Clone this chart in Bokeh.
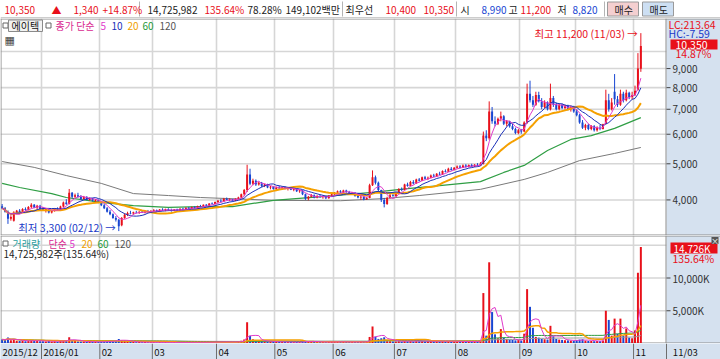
import numpy as np
import pandas as pd
from bokeh.plotting import figure
from bokeh.layouts import column
from bokeh.models import Range1d, FixedTicker, Grid, ColumnDataSource
from bokeh.core.properties import value
from bokeh.embed import file_html
from bokeh.resources import INLINE

# ---------------- data ----------------
month_labels = ["2015/12", "2016/01", "02", "03", "04", "05", "06", "07", "08", "09", "10", "11"]
month_days = [14, 20, 18, 22, 20, 20, 21, 21, 22, 19, 20, 3]
last_date_label = "11/03"

open_ = [
    3850, 3800, 3720, 3560, 3520, 3700, 3740, 3700, 3780, 3760, 3830, 3880, 3820, 3860,
    3790, 3760, 3780, 3700, 3740, 3790, 3760, 3840, 3940, 3900, 4180, 4080, 4120, 4080, 4020, 4080, 4000, 4040, 3980, 4000,
    3950, 3870, 3800, 3720, 3660, 3580, 3540, 3420, 3580, 3650, 3690, 3680, 3710, 3700, 3720, 3700, 3730, 3720,
    3740, 3760, 3730, 3770, 3750, 3780, 3760, 3740, 3770, 3750, 3790, 3770, 3810, 3790, 3830, 3800, 3850, 3840, 3880, 3860, 3910, 3900,
    3950, 3980, 3960, 4030, 4000, 4020, 3980, 4030, 4060, 4140, 4250, 4680, 4420, 4500, 4400, 4450, 4360, 4400, 4320, 4340,
    4280, 4320, 4300, 4330, 4280, 4300, 4260, 4280, 4220, 4240, 4140, 4030, 4080, 4120, 4060, 4100, 4070, 4090, 4040, 4110,
    4140, 4180, 4220, 4190, 4240, 4200, 4160, 4180, 4100, 4060, 4080, 4020, 4050, 4380, 4600, 4450, 4250, 4000, 3900, 4050, 4120,
    4100, 4180, 4280, 4250, 4400, 4360, 4470, 4430, 4540, 4500, 4600, 4560, 4590, 4650, 4620, 4700, 4680, 4780, 4760, 4850, 4810,
    4880, 4920, 4880, 4950, 4900, 4960, 4920, 4970, 4940, 5000, 5950, 5850, 6900, 6500, 6400, 6600, 6700, 6400, 6500, 6300, 6200, 6050,
    6150, 6100, 6450, 7700, 7400, 7200, 7650, 7350, 7100, 7300, 7000, 7500, 7200, 7000, 7200, 7050, 7150, 7000, 7100,
    6900, 6750, 6450, 6250, 6350, 6200, 6300, 6150, 6250, 6200, 6400, 7400, 7000, 7800, 7450, 7200, 7700, 7400, 7750, 7550,
    7650, 7900, 8990,
]
high = [
    3900, 3830, 3750, 3640, 3730, 3760, 3780, 3800, 3820, 3850, 3920, 3900, 3880, 3880,
    3830, 3800, 3790, 3760, 3800, 3820, 3860, 3960, 4020, 4280, 4200, 4160, 4180, 4120, 4100, 4090, 4060, 4050, 4020, 4010,
    3960, 3900, 3830, 3760, 3680, 3620, 3560, 3600, 3680, 3720, 3740, 3720, 3740, 3730, 3750, 3740, 3760, 3750,
    3780, 3770, 3780, 3800, 3790, 3800, 3790, 3780, 3790, 3800, 3810, 3820, 3830, 3840, 3850, 3860, 3880, 3890, 3900, 3920, 3940, 3960,
    4000, 4020, 4050, 4060, 4040, 4030, 4040, 4080, 4160, 4280, 4970, 4850, 4560, 4540, 4480, 4470, 4420, 4420, 4360, 4350,
    4340, 4360, 4340, 4350, 4320, 4330, 4300, 4290, 4260, 4250, 4160, 4100, 4150, 4140, 4120, 4130, 4110, 4100, 4120, 4160,
    4200, 4240, 4250, 4260, 4260, 4230, 4200, 4190, 4140, 4100, 4090, 4080, 4420, 4800, 4650, 4480, 4260, 4050, 4080, 4150, 4160,
    4200, 4300, 4320, 4420, 4450, 4500, 4520, 4560, 4580, 4620, 4640, 4620, 4680, 4700, 4720, 4760, 4800, 4830, 4880, 4900, 4900,
    4950, 4960, 4980, 4990, 4980, 5000, 4990, 5020, 5050, 6100, 6150, 7350, 7100, 6700, 6650, 6900, 6750, 6550, 6520, 6400, 6250, 6200,
    6200, 6500, 8200, 8350, 7600, 7800, 7800, 7500, 7400, 7350, 8200, 7600, 7300, 7250, 7250, 7200, 7200, 7150, 7150,
    7000, 6800, 6550, 6400, 6400, 6350, 6350, 6300, 6350, 6400, 7900, 7700, 7500, 8700, 7600, 7900, 7800, 7900, 7800, 7800,
    8100, 9900, 11200,
]
low = [
    3780, 3700, 3450, 3520, 3500, 3660, 3680, 3690, 3740, 3750, 3800, 3800, 3780, 3760,
    3740, 3700, 3680, 3680, 3720, 3740, 3750, 3820, 3880, 3890, 4040, 4050, 4060, 4000, 4010, 3990, 3980, 3960, 3940, 3920,
    3850, 3780, 3700, 3640, 3560, 3500, 3300, 3400, 3560, 3620, 3660, 3650, 3680, 3670, 3690, 3680, 3700, 3690,
    3720, 3710, 3720, 3740, 3730, 3740, 3720, 3730, 3740, 3740, 3750, 3760, 3770, 3780, 3790, 3790, 3820, 3830, 3840, 3850, 3880, 3890,
    3920, 3940, 3950, 3990, 3970, 3960, 3970, 4010, 4040, 4100, 4200, 4380, 4380, 4360, 4370, 4330, 4330, 4300, 4270, 4260,
    4250, 4280, 4260, 4270, 4240, 4250, 4220, 4200, 4180, 4120, 4000, 3990, 4060, 4040, 4040, 4050, 4030, 4020, 4030, 4090,
    4120, 4160, 4170, 4180, 4180, 4140, 4130, 4080, 4040, 4000, 3990, 4000, 4040, 4360, 4400, 4200, 3950, 3820, 3880, 4030, 4080,
    4080, 4160, 4220, 4240, 4340, 4350, 4400, 4420, 4480, 4490, 4540, 4520, 4570, 4600, 4610, 4660, 4670, 4740, 4750, 4790, 4800,
    4850, 4860, 4870, 4880, 4890, 4900, 4900, 4920, 4930, 4980, 5750, 5800, 6400, 6300, 6350, 6500, 6350, 6300, 6250, 6150, 6000, 6000,
    6020, 6080, 6400, 7300, 7100, 7150, 7300, 7000, 7050, 6950, 6950, 7100, 6950, 6950, 7000, 6980, 6950, 6900, 6850,
    6700, 6400, 6200, 6150, 6150, 6150, 6100, 6100, 6150, 6180, 6380, 6900, 6950, 7200, 7100, 7150, 7300, 7350, 7450, 7450,
    7600, 7850, 8820,
]
close = [
    3800, 3720, 3560, 3600, 3700, 3740, 3700, 3780, 3760, 3830, 3880, 3820, 3860, 3790,
    3760, 3780, 3700, 3740, 3790, 3760, 3840, 3940, 3900, 4180, 4080, 4120, 4080, 4020, 4080, 4000, 4040, 3980, 4000, 3950,
    3870, 3800, 3720, 3660, 3580, 3540, 3400, 3580, 3650, 3690, 3680, 3710, 3700, 3720, 3700, 3730, 3720, 3740,
    3760, 3730, 3770, 3750, 3780, 3760, 3740, 3770, 3750, 3790, 3770, 3810, 3790, 3830, 3800, 3850, 3840, 3880, 3860, 3910, 3900, 3950,
    3980, 3960, 4030, 4000, 4020, 3980, 4030, 4060, 4140, 4250, 4680, 4420, 4500, 4400, 4450, 4360, 4400, 4320, 4340, 4280,
    4320, 4300, 4330, 4280, 4300, 4260, 4280, 4220, 4240, 4140, 4030, 4080, 4120, 4060, 4100, 4070, 4090, 4040, 4110, 4140,
    4180, 4220, 4190, 4240, 4200, 4160, 4180, 4100, 4060, 4080, 4020, 4050, 4380, 4600, 4450, 4250, 4000, 3900, 4050, 4120, 4100,
    4180, 4280, 4250, 4400, 4360, 4470, 4430, 4540, 4500, 4600, 4560, 4590, 4650, 4620, 4700, 4680, 4780, 4760, 4850, 4810, 4880,
    4920, 4880, 4950, 4900, 4960, 4920, 4970, 4940, 5000, 5950, 5850, 6900, 6500, 6400, 6600, 6700, 6400, 6500, 6300, 6200, 6050, 6150,
    6100, 6450, 7700, 7400, 7200, 7650, 7350, 7100, 7300, 7000, 7500, 7200, 7000, 7200, 7050, 7150, 7000, 7100, 6900,
    6750, 6450, 6250, 6350, 6200, 6300, 6150, 6250, 6200, 6380, 7400, 7000, 7300, 7450, 7200, 7700, 7400, 7750, 7550, 7650,
    7850, 9010, 10350,
]
volume_k = [
    620, 540, 900, 480, 700, 420, 380, 450, 350, 400, 520, 380, 430, 360,
    330, 300, 420, 310, 350, 280, 400, 520, 450, 950, 480, 380, 320, 300, 290, 260, 310, 270, 250, 240,
    260, 300, 350, 380, 420, 450, 700, 520, 400, 330, 260, 220, 200, 230, 190, 210, 180, 200,
    180, 170, 190, 160, 180, 170, 160, 190, 150, 170, 160, 180, 170, 190, 160, 200, 180, 210, 190, 230, 200, 260,
    250, 220, 280, 230, 240, 210, 260, 300, 420, 600, 3250, 1200, 650, 500, 420, 380, 350, 320, 300, 280,
    260, 240, 250, 230, 220, 240, 210, 230, 220, 300, 420, 330, 280, 250, 240, 230, 220, 210, 240, 260,
    250, 270, 240, 260, 230, 220, 230, 250, 260, 240, 230, 250, 1000, 2600, 1050, 700, 800, 950, 520, 400, 330,
    320, 380, 300, 420, 350, 400, 330, 420, 360, 380, 320, 340, 380, 330, 360, 310, 400, 340, 380, 320, 350,
    330, 300, 320, 290, 310, 300, 330, 350, 420, 7700, 1200, 12400, 4800, 1400, 800, 2200, 900, 700, 600, 550, 480, 520,
    450, 1500, 8300, 5600, 2400, 1000, 900, 700, 650, 600, 2700, 1100, 700, 600, 550, 500, 480, 450, 420,
    500, 600, 650, 450, 400, 380, 350, 380, 360, 450, 5000, 3600, 1200, 3800, 1500, 3800, 1200, 2300, 900, 800,
    2000, 10800, 14726,
]
# 60- and 120-day moving averages (bar index, price)
ma60_idx = [0, 6, 17, 22, 34, 45, 57, 68, 79, 93, 114, 127, 139, 150, 164, 172, 179, 187, 195, 202, 210, 219]
ma60_val = [4430, 4320, 4160, 4060, 3940, 3860, 3820, 3840, 3840, 3990, 4110, 4190, 4290, 4370, 4480, 4740, 4950, 5430, 5810, 5950, 6220, 6650]
ma120_idx = [0, 11, 22, 34, 45, 57, 68, 79, 93, 116, 130, 143, 164, 179, 187, 198, 210, 219]
ma120_val = [5070, 4890, 4650, 4430, 4160, 4110, 4060, 4030, 3990, 3980, 4030, 4110, 4270, 4540, 4740, 5100, 5330, 5530]

price_ticks = [4000, 5000, 6000, 7000, 8000, 9000]
price_grid = [4000, 5000, 6000, 7000, 8000, 9000, 10000]
vol_ticks = [5000, 10000]
vol_grid = [5000, 10000, 15000]

# ---------------- styling ----------------
RED = "#e8101a"
BLUE = "#1846d2"
C5, C10, C20, C60, C120 = "#e03acb", "#1a2fb8", "#f5a000", "#2f9e44", "#7a7a7a"
AXBG = "#d5e1ef"
GRID = "#d6d6d6"
KR = value("Noto Sans CJK KR")

X0, SX = -0.56, 2.9165          # bar index at left edge, px per bar
def fx(px):
    return X0 + px / SX
def fy(py):                      # price figure: canvas y -> price
    return 12259.0 * np.exp(-(py - 18) / 162.0)
def fv(py):                      # volume figure: canvas y -> volume (K)
    return (343 - py) / 108.0 * 16490.0

XR = (X0, fx(720))
XEND = fx(666)                   # right edge of the chart area

n = len(close)
df = pd.DataFrame(dict(x=np.arange(n), o=open_, h=high, l=low, c=close, v=volume_k))
df["top"] = df[["o", "c"]].max(axis=1)
df["bot"] = df[["o", "c"]].min(axis=1)
df["color"] = np.where(df.c >= df.o, RED, BLUE)
prev = df.c.shift(1).fillna(df.o)
df["vcolor"] = np.where(df.c >= prev, RED, BLUE)
for w in (5, 10, 20):
    df[f"ma{w}"] = df.c.rolling(w, min_periods=1).mean()
for w in (5, 20, 60, 120):
    df[f"vma{w}"] = df.v.rolling(w, min_periods=1).mean()
src = ColumnDataSource(df)

starts = np.cumsum([0] + month_days[:-1])
bounds = [float(s) - 0.5 for s in starts[1:]]

def base_fig(h, yr, ytype="linear", bg="white"):
    f = figure(width=720, height=h, x_range=Range1d(*XR), y_range=yr, y_axis_type=ytype,
               output_backend="svg", toolbar_location=None, min_border=0,
               x_axis_location=None, y_axis_location=None, outline_line_color=None,
               background_fill_color=bg, border_fill_color=bg)
    f.grid.visible = False
    return f

# ---------------- top info bar ----------------
top = figure(width=720, height=18, x_range=Range1d(0, 720), y_range=Range1d(18, 0),
             output_backend="svg", toolbar_location=None, min_border=0,
             x_axis_location=None, y_axis_location=None, outline_line_color=None,
             background_fill_color="white", border_fill_color="white")
top.grid.visible = False
top.quad(left=[607, 642], right=[638, 673], top=[1.5, 1.5], bottom=[15.5, 15.5],
         fill_color=["#f4cfd0", "#cddff3"], line_color="#9a9a9a")
top.segment(x0=[139, 342, 456, 604], y0=[1] * 4, x1=[139, 342, 456, 604], y1=[16] * 4,
            line_color="#b4b4b4")
top.segment(x0=[0], y0=[17.5], x1=[720], y1=[17.5], line_color="#9a9a9a")
info = ColumnDataSource(dict(
    x=[4, 51, 73, 102, 147, 204, 247, 285, 345, 385, 423, 460, 481, 508, 520, 557, 572, 614, 649],
    text=["10,350", "▲", "1,340", "+14.87%", "14,725,982", "135.64%", "78.28%", "149,102백만", "최우선",
          "10,400", "10,350", "시", "8,990", "고", "11,200", "저", "8,820", "매수", "매도"],
    color=[RED, RED, RED, RED, "#222", RED, "#222", "#222", "#222", RED, RED, "#222", BLUE,
           "#222", RED, "#222", BLUE, "#222", "#222"]))
top.text(x="x", y=9, text="text", text_color="color", source=info, text_font=KR,
         text_font_size="10px", text_baseline="middle")

# ---------------- price panel ----------------
p = base_fig(217, Range1d(fy(235), fy(18)), ytype="log")
p.quad(left=[XEND], right=[XR[1]], bottom=[fy(235)], top=[fy(18)], fill_color=AXBG, line_color=None)
p.add_layout(Grid(dimension=0, ticker=FixedTicker(ticks=bounds), grid_line_color=GRID, grid_line_width=1.6))
p.segment(x0=[X0] * len(price_grid), x1=[XEND] * len(price_grid), y0=price_grid, y1=price_grid,
          line_color=GRID, line_width=1.6)
# frame borders
p.segment(x0=[fx(0.5), fx(665.5), X0, X0], x1=[fx(0.5), fx(665.5), XR[1], XR[1]],
          y0=[fy(235), fy(235), fy(18.5), fy(234.5)], y1=[fy(18), fy(18), fy(18.5), fy(234.5)],
          line_color="#8c8c8c", line_width=1)
# right-hand price scale
p.segment(x0=[XEND] * len(price_ticks), x1=[fx(670)] * len(price_ticks), y0=price_ticks, y1=price_ticks,
          line_color="#444444")
p.text(x=[fx(672)] * len(price_ticks), y=price_ticks, text=[f"{t:,}" for t in price_ticks],
       text_color="#333333", text_font=KR, text_font_size="10px", text_baseline="middle")

p.line(ma120_idx, ma120_val, line_color=C120, line_width=1)
p.line(ma60_idx, ma60_val, line_color=C60, line_width=1.2)
p.segment(x0="x", y0="h", x1="x", y1="l", line_color="color", line_width=1, source=src)
p.vbar(x="x", width=0.68, top="top", bottom="bot", fill_color="color", line_color=None, source=src)
p.line("x", "ma20", line_color=C20, line_width=2, source=src)
p.line("x", "ma10", line_color=C10, line_width=1, source=src)
p.line("x", "ma5", line_color=C5, line_width=1, source=src)

# legend row
p.quad(left=[fx(2.5), fx(45.5), fx(8)], right=[fx(7.5), fx(50.5), fx(42)],
       top=[fy(22.5), fy(22.5), fy(19.5)], bottom=[fy(27.5), fy(27.5), fy(31)],
       fill_color=["white", "white", "#f2f2f2"], line_color=["#666", "#666", "#8a8a8a"])
leg = ColumnDataSource(dict(
    x=[fx(11), fx(55), fx(100), fx(111), fx(127), fx(142), fx(159)],
    y=[fy(25)] * 7,
    text=["에이텍", "종가 단순", "5", "10", "20", "60", "120"],
    color=["#111", "#d81f8f", C5, C10, "#f0a000", "#1f9a3a", "#555"]))
p.text(x="x", y="y", text="text", text_color="color", source=leg, text_font=KR,
       text_font_size="10px", text_baseline="middle")
p.text(x=[fx(4)], y=[fy(40)], text=["▦"], text_color="#444", text_font=value("DejaVu Sans"),
       text_font_size="11px", text_baseline="middle")

# high / low markers
p.text(x=[n - 1], y=[max(high)], text=["최고 11,200 (11/03) →"], text_color=RED, text_font=KR,
       text_font_size="10.5px", text_align="right", text_baseline="middle", x_offset=-3)
low_i = int(np.argmin(low))
p.text(x=[low_i], y=[fy(227)], text=["최저 3,300 (02/12) →"], text_color="#1a3ac8", text_font=KR,
       text_font_size="10.5px", text_align="right", text_baseline="middle", x_offset=-3)

# right-side info labels
p.quad(left=[fx(670)], right=[fx(717)], top=[fy(39)], bottom=[fy(49)], fill_color=RED, line_color=None)
rinfo = ColumnDataSource(dict(
    x=[fx(668), fx(668), fx(675), fx(675)],
    y=[fy(24), fy(33), fy(44), fy(53)],
    text=["LC:213.64", "HC:-7.59", "10,350", "14.87%"],
    color=[RED, "#1a3ac8", "white", RED]))
p.text(x="x", y="y", text="text", text_color="color", source=rinfo, text_font=KR,
       text_font_size="10.5px", text_baseline="middle")

# ---------------- volume panel ----------------
vp = base_fig(108, Range1d(0, 16490))
vp.quad(left=[XEND], right=[XR[1]], bottom=[0], top=[16490], fill_color=AXBG, line_color=None)
vp.add_layout(Grid(dimension=0, ticker=FixedTicker(ticks=bounds), grid_line_color=GRID, grid_line_width=1.6))
vp.segment(x0=[X0] * len(vol_grid), x1=[XEND] * len(vol_grid), y0=vol_grid, y1=vol_grid,
           line_color=GRID, line_width=1.6)
vp.segment(x0=[fx(0.5), fx(665.5), X0, X0], x1=[fx(0.5), fx(665.5), XR[1], XR[1]],
           y0=[0, 0, fv(235.5), fv(342.5)], y1=[16490, 16490, fv(235.5), fv(342.5)],
           line_color="#8c8c8c", line_width=1)
vp.segment(x0=[XEND] * len(vol_ticks), x1=[fx(670)] * len(vol_ticks), y0=vol_ticks, y1=vol_ticks,
           line_color="#444444")
vp.text(x=[fx(672)] * len(vol_ticks), y=vol_ticks, text=[f"{t:,}K" for t in vol_ticks],
        text_color="#333333", text_font=KR, text_font_size="10px", text_baseline="middle")

vp.vbar(x="x", width=0.68, top="v", bottom=0, fill_color="vcolor", line_color=None, source=src)
vp.line("x", "vma120", line_color="#9a9a9a", line_width=1, source=src)
vp.line("x", "vma60", line_color=C60, line_width=1, source=src)
vp.line("x", "vma20", line_color=C20, line_width=1.5, source=src)
vp.line("x", "vma5", line_color=C5, line_width=1, source=src)

vp.quad(left=[fx(2.5)], right=[fx(7.5)], top=[fv(240.5)], bottom=[fv(245.5)],
        fill_color="white", line_color="#666")
vleg = ColumnDataSource(dict(
    x=[fx(12), fx(48), fx(69), fx(81), fx(97), fx(114), fx(3)],
    y=[fv(243)] * 6 + [fv(253)],
    text=["거래량", "단순", "5", "20", "60", "120", "14,725,982주(135.64%)"],
    color=["#2a9d9d", "#d81f8f", C5, "#f0a000", "#1f9a3a", "#555", "#222"]))
vp.text(x="x", y="y", text="text", text_color="color", source=vleg, text_font=KR,
        text_font_size="10px", text_baseline="middle")
vp.quad(left=[fx(670), fx(711)], right=[fx(717), fx(718)], top=[fv(242), fv(236.5)],
        bottom=[fv(253), fv(243.5)], fill_color=[RED, "#555555"], line_color=None)
vinfo = ColumnDataSource(dict(
    x=[fx(673), fx(672), fx(714.5)],
    y=[fv(247.5), fv(258), fv(240)],
    text=["14,726K", "135.64%", "×"],
    color=["white", RED, "white"],
    align=["left", "left", "center"],
    size=["10px", "10.5px", "8px"]))
vp.text(x="x", y="y", text="text", text_color="color", text_align="align", text_font_size="size",
        source=vinfo, text_font=KR, text_baseline="middle")

# ---------------- date strip ----------------
strip = base_fig(16, Range1d(16, 0), bg=AXBG)
sep_x = bounds + [XEND]
strip.segment(x0=sep_x, y0=[0] * len(sep_x), x1=sep_x, y1=[16] * len(sep_x), line_color="#6e6e6e")
lab_x = [X0] + bounds + [XEND + 1.5]
strip.text(x=lab_x, y=[8.5] * len(lab_x), text=month_labels + [last_date_label], text_color="#111",
           text_font=KR, text_font_size="9.5px", text_baseline="middle", x_offset=2)

layout = column(top, p, vp, strip, spacing=0)
open("out.html", "w").write(file_html(layout, INLINE))
